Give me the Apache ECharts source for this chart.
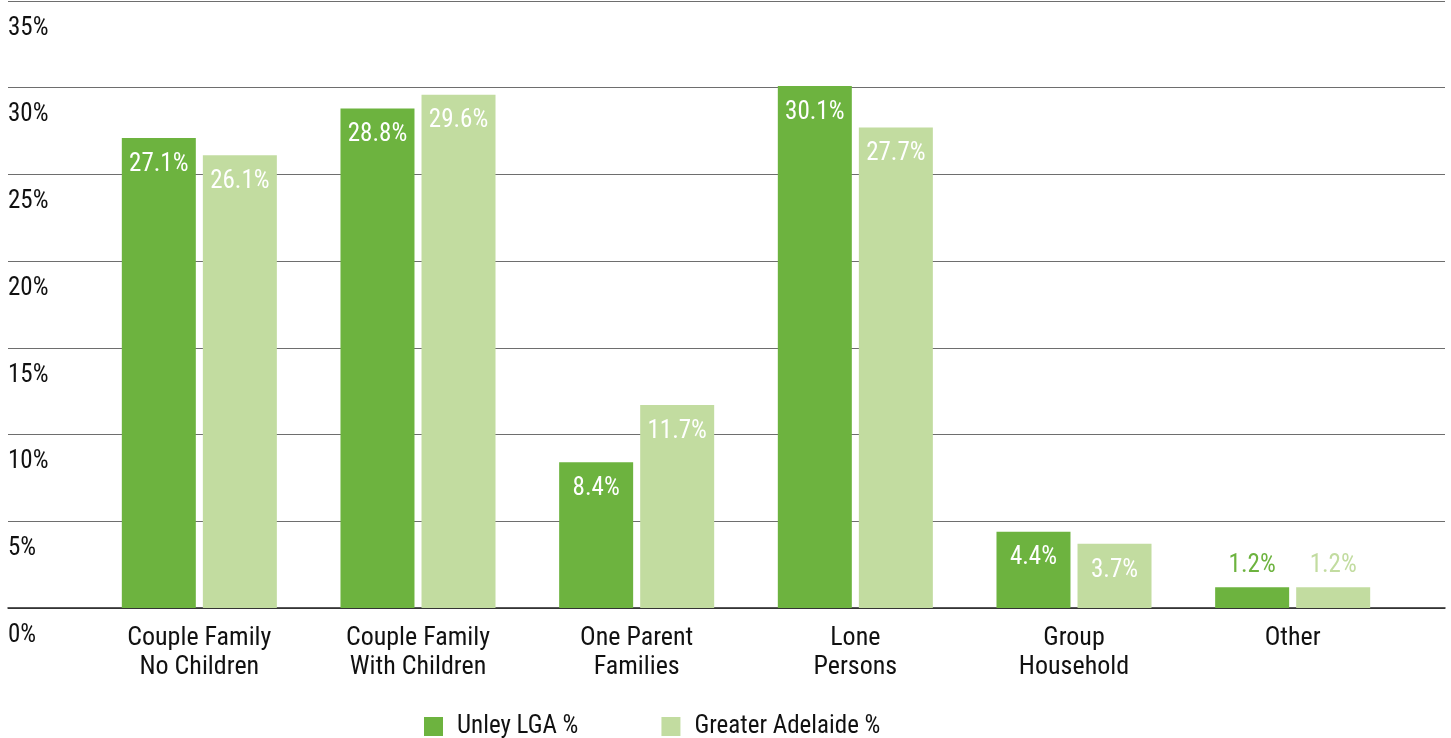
<!DOCTYPE html>
<html><head><meta charset="utf-8">
<script src="https://cdn.jsdelivr.net/npm/echarts@6/dist/echarts.min.js"></script>
<style>html,body{margin:0;padding:0;background:#fff}#c{width:1451px;height:738px}</style>
</head><body><div id="c"></div>
<script>
var categories = ['Couple Family\nNo Children','Couple Family\nWith Children','One Parent\nFamilies','Lone\nPersons','Group\nHousehold','Other'];
var unley = [27.1, 28.8, 8.4, 30.1, 4.4, 1.2];
var adelaide = [26.1, 29.6, 11.7, 27.7, 3.7, 1.2];
var seriesNames = ['Unley LGA %', 'Greater Adelaide %'];
var yTicks = [0, 5, 10, 15, 20, 25, 30, 35];

var FONT = '"Roboto Condensed","Liberation Sans Narrow","DejaVu Sans Condensed",Roboto,sans-serif';
var C1 = '#6db33f', C2 = '#c2dca0';

function mk(vals, color) {
  return vals.map(function (v) {
    if (v < 2) {
      return { value: v, label: { position: 'top', distance: 9, color: color } };
    }
    return v;
  });
}

var chart = echarts.init(document.getElementById('c'));
chart.setOption({
  animation: false,
  textStyle: { fontFamily: FONT },
  legend: {
    data: seriesNames, left: 419, top: 709, itemWidth: 19, itemHeight: 19, itemGap: 83,
    icon: 'rect',
    textStyle: { fontFamily: FONT, fontSize: 25, color: '#111', padding: [0, 0, 0, 9] }
  },
  grid: [
    { left: 8, right: 6, top: 1, bottom: 130 },
    { left: 90, right: 49, top: 1, bottom: 130 }
  ],
  xAxis: [
    { gridIndex: 0, type: 'value', min: 0, max: 1, axisLine: { show: true, onZero: false, lineStyle: { color: '#222', width: 1.5 } },
      axisTick: { show: false }, axisLabel: { show: false }, splitLine: { show: false } },
    { gridIndex: 1, type: 'category', data: categories,
      axisLine: { show: false }, axisTick: { show: false },
      axisLabel: { fontFamily: FONT, fontSize: 26, color: '#111', lineHeight: 29, margin: 16 } }
  ],
  yAxis: [
    { gridIndex: 0, type: 'value', min: 0, max: 35, interval: 5,
      axisLine: { show: false }, axisTick: { show: false },
      splitLine: { lineStyle: { color: '#6e6e6e', width: 1.2 } },
      axisLabel: { inside: true, margin: 0, align: 'left', verticalAlign: 'top', padding: [15, 0, 0, 0],
        fontFamily: FONT, fontSize: 25, color: '#111',
        formatter: function (v) { return yTicks.indexOf(v) >= 0 ? v + '%' : ''; } } },
    { gridIndex: 1, type: 'value', min: 0, max: 35, interval: 5, show: false, splitLine: { show: false } }
  ],
  series: [
    { name: seriesNames[0], type: 'bar', xAxisIndex: 1, yAxisIndex: 1, data: mk(unley, C1),
      itemStyle: { color: C1 }, barWidth: 74, barGap: '9.5%',
      label: { show: true, position: 'insideTop', distance: 14, color: '#fff', fontFamily: FONT, fontSize: 25,
        formatter: function (p) { return p.value.toFixed(1) + '%'; } } },
    { name: seriesNames[1], type: 'bar', xAxisIndex: 1, yAxisIndex: 1, data: mk(adelaide, C2),
      itemStyle: { color: C2 }, barWidth: 74, barGap: '9.5%',
      label: { show: true, position: 'insideTop', distance: 14, color: '#fff', fontFamily: FONT, fontSize: 25,
        formatter: function (p) { return p.value.toFixed(1) + '%'; } } }
  ]
});
</script></body></html>
